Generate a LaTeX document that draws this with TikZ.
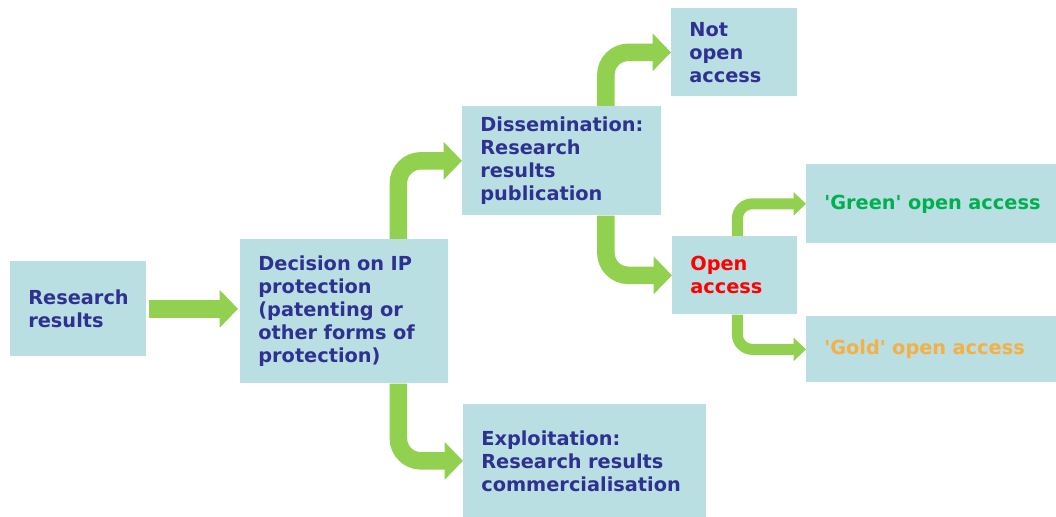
\documentclass[tikz,border=0pt]{standalone}
\usepackage{fontspec}
\setmainfont{DejaVu Sans}
\usetikzlibrary{arrows.meta}
\definecolor{boxblue}{HTML}{B9DFE3}
\definecolor{arrowgreen}{HTML}{92D050}
\definecolor{navy}{HTML}{2E3192}
\definecolor{oagreen}{HTML}{00B050}
\definecolor{oagold}{HTML}{F4B042}
\begin{document}
\begin{tikzpicture}[box/.style={fill=boxblue, anchor=north west, align=left, inner xsep=0.36cm, inner ysep=0pt, text=navy, font=\fontsize{11}{13.1}\selectfont\bfseries},
bigarrow/.style={arrowgreen, line width=0.35cm, rounded corners=0.45cm, -{Triangle[length=0.37cm, width=0.74cm]}},
smallarrow/.style={arrowgreen, line width=0.22cm, rounded corners=0.3cm, -{Triangle[length=0.25cm, width=0.46cm]}}]
\useasboundingbox (0,0) rectangle (21.12,10.34);
% boxes
\node[box, text width=2.00cm, minimum height=1.90cm] (res) at (0.20,5.12) {Research\\results};
\node[box, text width=3.44cm, minimum height=2.88cm] (dec) at (4.80,5.56) {Decision on IP\\protection\\(patenting or\\other forms of\\protection)};
\node[box, text width=3.26cm, minimum height=2.18cm] (dis) at (9.24,8.22) {Dissemination:\\Research\\results\\publication};
\node[box, text width=1.80cm, minimum height=1.76cm] (notoa) at (13.42,10.18) {Not\\open\\access};
\node[box, text width=1.78cm, minimum height=1.56cm, text=red] (oa) at (13.44,5.62) {Open\\access};
\node[box, text width=4.28cm, minimum height=1.58cm, text=oagreen] (green) at (16.12,7.06) {\mbox{\textquotesingle Green\textquotesingle{} open access}};
\node[box, text width=4.28cm, minimum height=1.32cm, text=oagold] (gold) at (16.12,4.02) {\mbox{\textquotesingle Gold\textquotesingle{} open access}};
\node[box, text width=4.14cm, minimum height=2.26cm] (expl) at (9.26,2.26) {Exploitation:\\Research results\\commercialisation};
% arrows
\draw[bigarrow] ([xshift=0.04cm]res.east) -- ([xshift=-0.04cm]res.east -| dec.west);
\draw[bigarrow] ([xshift=1.08cm]dec.north) |- (dis.west);
\draw[bigarrow] ([xshift=1.08cm]dec.south) |- (expl.west);
\draw[bigarrow] ([xshift=0.88cm]dis.north) |- (notoa.west);
\draw[bigarrow] ([xshift=0.88cm]dis.south) |- (oa.west);
\draw[smallarrow] ([xshift=0.05cm]oa.north) |- (green.west);
\draw[smallarrow] ([xshift=0.05cm]oa.south) |- (gold.west);
\end{tikzpicture}
\end{document}
